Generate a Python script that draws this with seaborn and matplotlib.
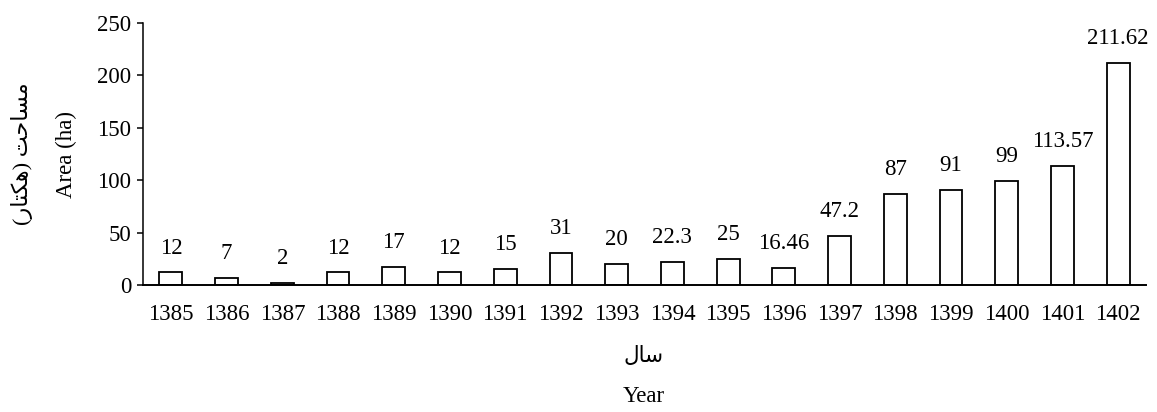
import matplotlib
matplotlib.use("Agg")
import matplotlib.pyplot as plt
import seaborn as sns
import pandas as pd

years = ["1385", "1386", "1387", "1388", "1389", "1390", "1391", "1392", "1393",
         "1394", "1395", "1396", "1397", "1398", "1399", "1400", "1401", "1402"]
area = [12, 7, 2, 12, 17, 12, 15, 31, 20, 22.3, 25, 16.46, 47.2, 87, 91, 99, 113.57, 211.62]
labels = ["12", "7", "2", "12", "17", "12", "15", "31", "20", "22.3", "25", "16.46",
          "47.2", "87", "91", "99", "113.57", "211.62"]

# Persian labels written in visual order with presentation forms (no shaping in matplotlib)
fa_ylabel = "(\uFEAD\uFE8E\uFE98\uFB91\uFEEB) \uFE96\uFEA3\uFE8E\uFEB4\uFEE3"
fa_xlabel = "\uFEDD\uFE8E\uFEB3"

df = pd.DataFrame({"year": years, "area": area})

sns.set_style("white", {"text.color": "black", "xtick.color": "black",
                        "ytick.color": "black", "axes.edgecolor": "black",
                        "axes.labelcolor": "black"})
plt.rcParams["font.family"] = ["Liberation Serif", "DejaVu Sans"]
fs = 16.5

fig = plt.figure(figsize=(11.57, 4.12), dpi=100)
ax = fig.add_axes([0.1236, 0.3083, 0.8669, 0.6357])

sns.barplot(data=df, x="year", y="area", color="white", edgecolor="black",
            linewidth=1.3, width=0.41, saturation=1, ax=ax)

for i, (v, t) in enumerate(zip(area, labels)):
    ax.annotate(t, (i, v), xytext=(0, 10), textcoords="offset points",
                ha="center", va="bottom", fontsize=fs, color="black")

ax.set_xlim(-0.5, len(years) - 0.5)
ax.set_ylim(0, 250)
ax.set_yticks(range(0, 251, 50))
ax.tick_params(axis="y", direction="out", length=4.5, width=1.1, labelsize=fs, pad=4, left=True)
ax.tick_params(axis="x", length=0, labelsize=fs, pad=14)
sns.despine(ax=ax)
ax.spines["left"].set_linewidth(1.1)
ax.spines["bottom"].set_linewidth(1.4)

ax.set_xlabel("")
ax.set_ylabel("")
fig.text(0.5565, 1 - 397 / 412, "Year", ha="center", va="center", fontsize=fs, color="black")
fig.text(0.5565, 1 - 357 / 412, fa_xlabel, ha="center", va="center", fontsize=fs - 1, color="black")
fig.text(66 / 1157, 0.6262, "Area (ha)", ha="center", va="center", rotation=90, fontsize=fs, color="black")
fig.text(22 / 1157, 0.6262, fa_ylabel, ha="center", va="center", rotation=90, fontsize=fs - 0.5, color="black")

fig.savefig("out.png", dpi=100)
